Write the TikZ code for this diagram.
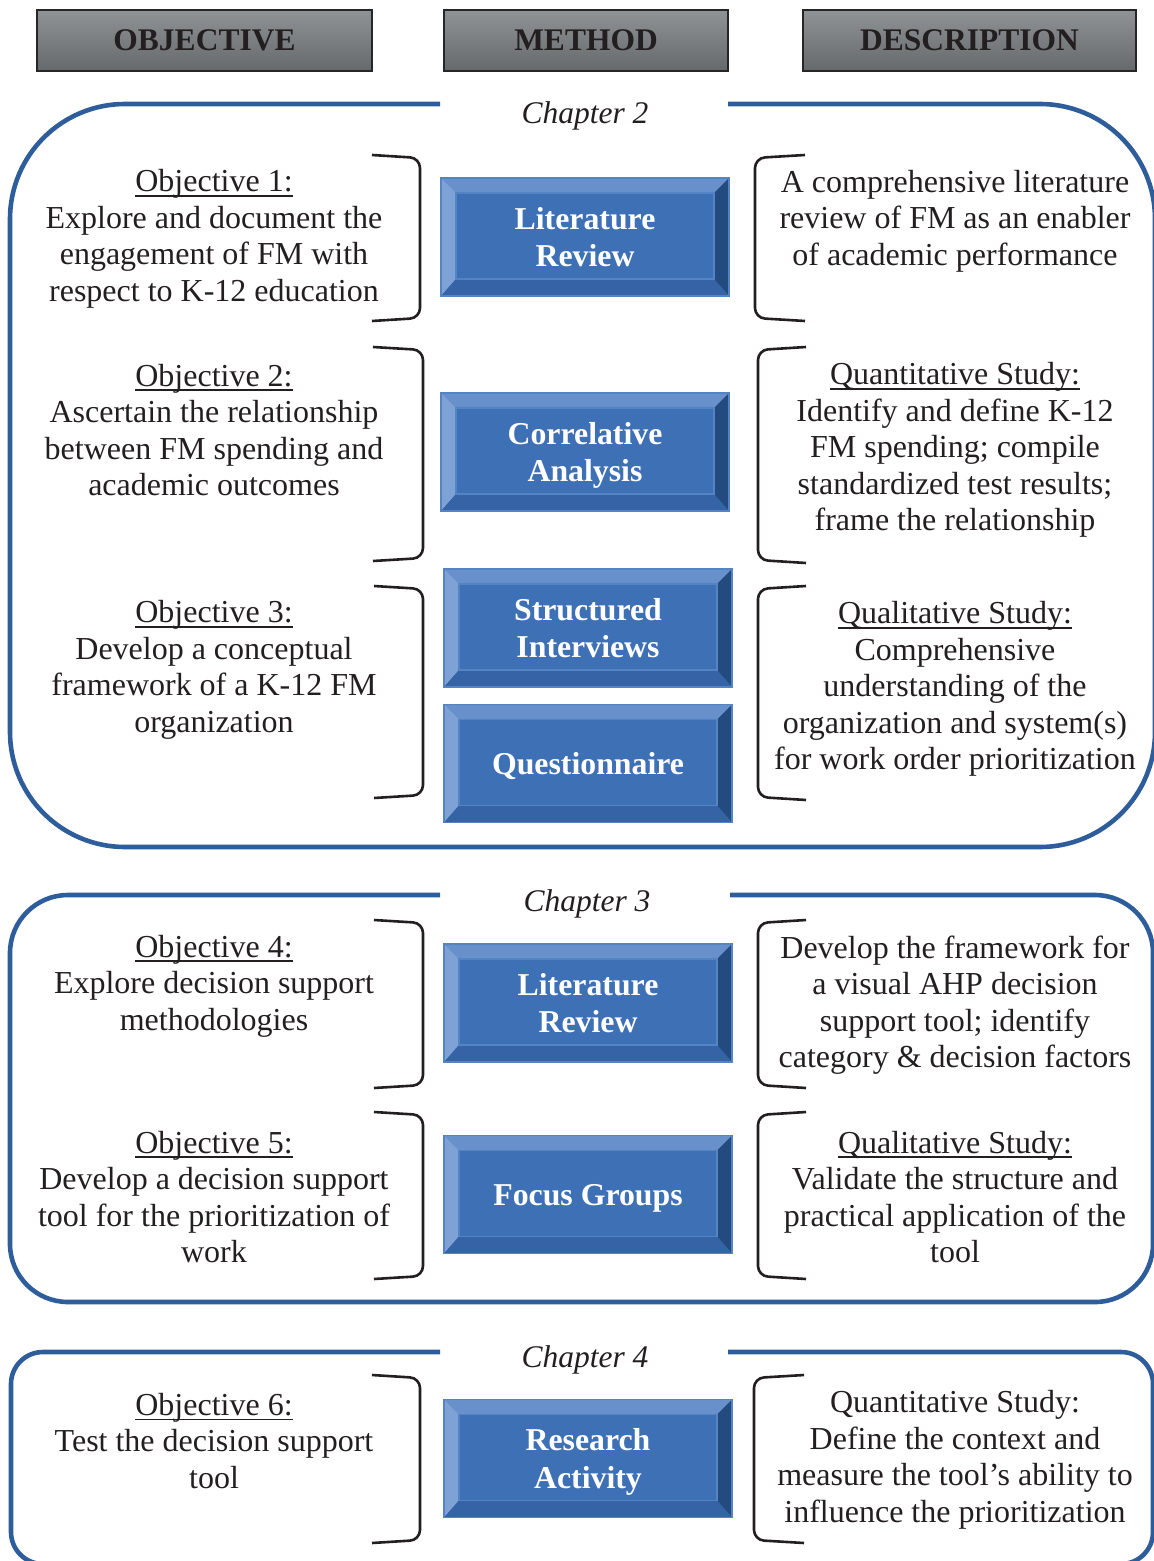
\documentclass[tikz,border=0pt]{standalone}
\usepackage{fontspec}
\setmainfont{Liberation Serif}
\usepackage{tikz}
\usetikzlibrary{positioning}

\newsavebox{\ulbox}
\newcommand{\ulined}[1]{\sbox{\ulbox}{#1}\rlap{\rule[-2.45pt]{\wd\ulbox}{0.9pt}}\usebox{\ulbox}}

\definecolor{inkcol}{HTML}{231F20}
\definecolor{frameblue}{HTML}{2E5D9B}
\definecolor{headtop}{HTML}{909396}
\definecolor{headbot}{HTML}{66696B}
\definecolor{headline}{HTML}{262626}
\definecolor{methface}{HTML}{3E70B6}
\definecolor{methtop}{HTML}{6890CB}
\definecolor{methleft}{HTML}{7FA2D6}
\definecolor{methright}{HTML}{234B80}
\definecolor{methbot}{HTML}{3563A5}
\definecolor{methedge}{HTML}{5584C4}

\begin{document}
\begin{tikzpicture}[x=0.5pt, y=-0.5pt,
  every node/.style={font=\fontsize{16}{18.25}\selectfont, text=inkcol},
  header/.style={draw=headline, line width=1.25pt, top color=headtop, bottom color=headbot, minimum height=30.5pt, inner sep=0pt, font=\fontsize{15.75}{18.25}\selectfont\bfseries},
  method/.style={draw=methedge, line width=0.6pt, fill=methface, minimum width=144pt, minimum height=59pt, inner sep=0pt, outer sep=0pt, align=center, text=white, text depth=0pt, font=\fontsize{15.9}{18.6}\selectfont\bfseries,
    path picture={
      \fill [methtop] (path picture bounding box.north west) -- ++(144pt,0) -- ++(-7.5pt,-7.5pt) -- ++(-129pt,0) -- cycle;
      \fill [methleft] (path picture bounding box.north west) -- ++(7.5pt,-7.5pt) -- ++(0,-43pt) -- ++(-7.5pt,-8.5pt) -- cycle;
      \fill [methright] (path picture bounding box.north east) -- ++(-7.5pt,-7.5pt) -- ++(0,-43pt) -- ++(7.5pt,-8.5pt) -- cycle;
      \fill [methbot] (path picture bounding box.south west) -- ++(7.5pt,8.5pt) -- ++(129pt,0) -- ++(7.5pt,-8.5pt) -- cycle;
      \draw [methedge, line width=0.6pt] ([shift={(7.5pt,-7.5pt)}]path picture bounding box.north west) rectangle ([shift={(-7.5pt,8.5pt)}]path picture bounding box.south east);
    }},
  objtext/.style={align=center},
  chapter/.style={font=\fontsize{15.75}{18.25}\selectfont\itshape},
  bracket/.style={draw=inkcol, line width=1.3pt, rounded corners=5pt},
  frame/.style={draw=frameblue, line width=2.3pt}]
\useasboundingbox (0,0) rectangle (1154,1561);
\clip (0,0) rectangle (1154,1561);

% column headers
\node [header, minimum width=167.5pt] (hdobj) at (204.5,40.5) {OBJECTIVE};
\node [header, minimum width=142pt] (hdmeth) at (586,40.5) {METHOD};
\node [header, minimum width=166.5pt] (hddesc) at (969.5,40.5) {DESCRIPTION};

% chapter frames
\draw [frame, rounded corners=57.5pt] (440,104) -- (10,104) -- (10,847) -- (1155,847) -- (1155,104) -- (728,104);
\draw [frame, rounded corners=29pt] (440,895) -- (10,895) -- (10,1302) -- (1153,1302) -- (1153,895) -- (730,895);
\draw [frame, rounded corners=16pt] (440,1352) -- (11,1352) -- (11,1564) -- (1153,1564) -- (1153,1352) -- (728,1352);
\node [chapter] (ch2) at (585,116) {Chapter 2};
\node [chapter] (ch3) at (587,904) {Chapter 3};
\node [chapter] (ch4) at (585,1360) {Chapter 4};

% methods
\node [method] (lit2) at (585,237) {Literature\\Review};
\node [method] (corr) at (585,452) {Correlative\\Analysis};
\node [method] (struct) at (588,628) {Structured\\Interviews};
\node [method] (quest) at (588,763.5) {Questionnaire};
\node [method] (lit3) at (588,1003) {Literature\\Review};
\node [method] (focus) at (588,1194.5) {Focus Groups};
\node [method] (research) at (588,1458.5) {Research\\Activity};

% objectives
\node [objtext] (obj1) at (214,239) {\ulined{Objective 1:}\\Explore and document the\\engagement of FM with\\respect to K-12 education};
\node [objtext] (obj2) at (214,430) {\ulined{Objective 2:}\\Ascertain the relationship\\between FM spending and\\academic outcomes};
\node [objtext] (obj3) at (214,670) {\ulined{Objective 3:}\\Develop a conceptual\\framework of a K-12 FM\\organization};
\node [objtext] (obj4) at (214,986) {\ulined{Objective 4:}\\Explore decision support\\methodologies};
\node [objtext] (obj5) at (214,1197) {\ulined{Objective 5:}\\Develop a decision support\\tool for the prioritization of\\work};
\node [objtext] (obj6) at (214,1441) {\ulined{Objective 6:}\\Test the decision support\\tool};

% descriptions
\node [objtext] (desc1) at (955,221) {A comprehensive literature\\review of FM as an enabler\\of academic performance};
\node [objtext] (desc2) at (955,450) {\ulined{Quantitative Study:}\\Identify and define K-12\\FM spending; compile\\standardized test results;\\frame the relationship};
\node [objtext] (desc3) at (955,689) {\ulined{Qualitative Study:}\\Comprehensive\\understanding of the\\organization and system(s)\\for work order prioritization};
\node [objtext] (desc4) at (955,1005) {Develop the framework for\\a visual AHP decision\\support tool; identify\\category \& decision factors};
\node [objtext] (desc5) at (955,1197) {\ulined{Qualitative Study:}\\Validate the structure and\\practical application of the\\tool};
\node [objtext] (desc6) at (955,1460) {Quantitative Study:\\Define the context and\\measure the tool’s ability to\\influence the prioritization};

% brackets
\draw [bracket] (372,155) -- (420,158) -- (420,318) -- (372,321);
\draw [bracket] (373,347) -- (423,350) -- (423,558) -- (373,561);
\draw [bracket] (374,586) -- (423,589) -- (423,795) -- (374,798);
\draw [bracket] (374,920) -- (423,923) -- (423,1085) -- (374,1088);
\draw [bracket] (374,1112) -- (423,1115) -- (423,1276) -- (374,1279);
\draw [bracket] (372,1375) -- (420,1378) -- (420,1540) -- (372,1543);
\draw [bracket] (805,155) -- (755,158) -- (755,318) -- (805,321);
\draw [bracket] (806,347) -- (758,350) -- (758,560) -- (806,563);
\draw [bracket] (806,586) -- (758,589) -- (758,797) -- (806,800);
\draw [bracket] (806,920) -- (758,923) -- (758,1085) -- (806,1088);
\draw [bracket] (806,1112) -- (758,1115) -- (758,1276) -- (806,1279);
\draw [bracket] (804,1375) -- (754,1378) -- (754,1540) -- (804,1543);
\end{tikzpicture}
\end{document}
